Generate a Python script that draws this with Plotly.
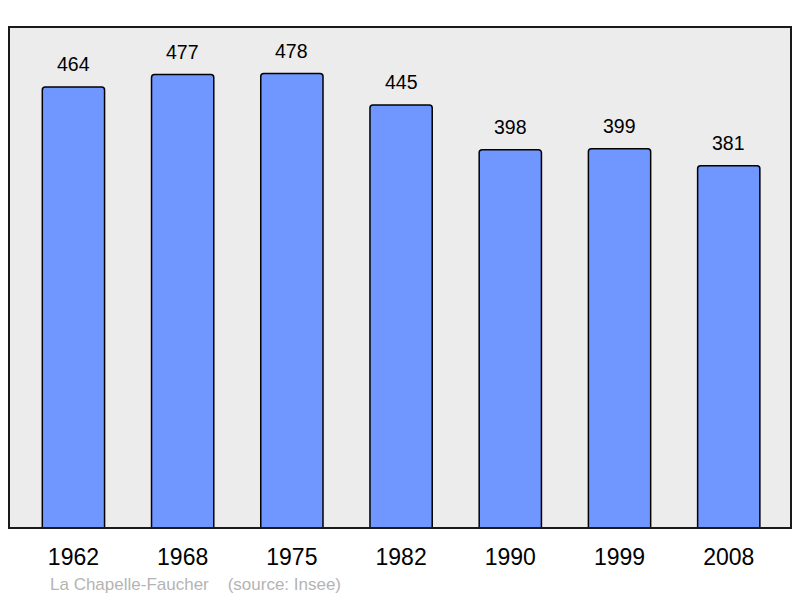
import plotly.graph_objects as go

years = ["1962", "1968", "1975", "1982", "1990", "1999", "2008"]
population = [464, 477, 478, 445, 398, 399, 381]
commune = "La Chapelle-Faucher"
source = "(source: Insee)"

idx = list(range(len(years)))

fig = go.Figure()
fig.add_trace(go.Bar(
    x=idx, y=population, width=0.57,
    marker=dict(color="rgb(112,150,255)", line=dict(color="black", width=1.5), cornerradius=3),
    hoverinfo="skip",
))

for i, v in zip(idx, population):
    fig.add_annotation(x=i, y=v, text=str(v), showarrow=False, yanchor="middle", yshift=23,
                       font=dict(family="Liberation Sans", size=19.5, color="black"))

fig.add_annotation(xref="paper", yref="paper", x=0.05, y=-0.112, xanchor="left", yanchor="middle",
                   text=commune + "    " + source, showarrow=False,
                   font=dict(family="Liberation Sans", size=17, color="#b4b4b4"))

fig.add_shape(type="rect", xref="paper", yref="paper", x0=0, y0=0, x1=1, y1=1,
              line=dict(color="#1a1a1a", width=2), layer="above")

fig.update_xaxes(range=[-0.59, 6.57], tickvals=idx, ticktext=years, showgrid=False, zeroline=False,
                 ticks="outside", ticklen=8, tickcolor="rgba(0,0,0,0)",
                 tickfont=dict(family="Liberation Sans", size=23, color="black"))
fig.update_yaxes(range=[0, 527], visible=False, showgrid=False)
fig.update_layout(width=800, height=598, margin=dict(l=9, r=9, t=27, b=70),
                  plot_bgcolor="#ececec", paper_bgcolor="white", showlegend=False)

# drop the default 8px body margin so the 800x598 figure fills the window
fig.write_html("out.html", config={"displayModeBar": False},
               post_script="document.body.style.margin='0';document.body.style.overflow='hidden';")
